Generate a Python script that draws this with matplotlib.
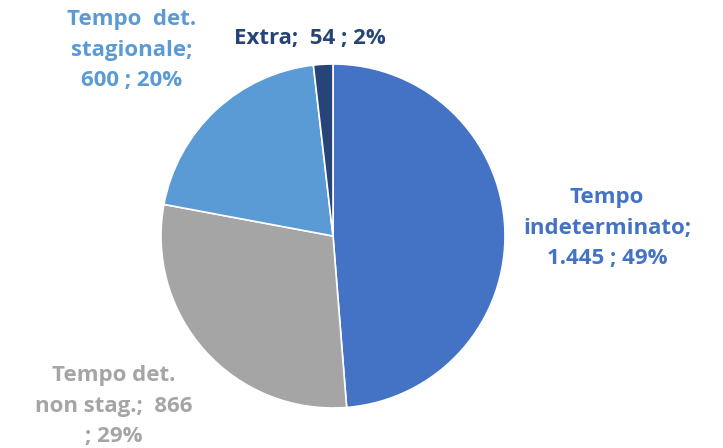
import matplotlib
matplotlib.use("Agg")
import matplotlib.pyplot as plt

# contract types and counts
categories = ["Tempo indeterminato", "Tempo det. non stag.", "Tempo det. stagionale", "Extra"]
values = [1445, 866, 600, 54]
labels = ["Tempo\nindeterminato;\n1.445 ; 49%",
          "Tempo det.\nnon stag.;  866\n; 29%",
          "Tempo  det.\nstagionale;\n600 ; 20%",
          "Extra;  54 ; 2%"]
colors = ["#4472C4", "#A5A5A5", "#5B9BD5", "#264478"]

plt.rcParams['font.family'] = ['Open Sans', 'DejaVu Sans']

W, H = 723, 448
cx, cy, r = 333, 236, 172

fig = plt.figure(figsize=(W / 100, H / 100), dpi=100)
ax = fig.add_axes([0, 0, 1, 1])
ax.pie(values, colors=colors, startangle=90, counterclock=False,
       wedgeprops=dict(edgecolor="white", linewidth=1.2))
ax.set_xlim(-cx / r, (W - cx) / r)
ax.set_ylim(-(H - cy) / r, cy / r)
ax.set_aspect("auto")
ax.axis("off")

# label positions in pixels (x, y from top)
pos = [(607, 228), (114, 406), (132, 50), (310, 38)]
for lab, col, (px, py) in zip(labels, colors, pos):
    ax.text((px - cx) / r, (cy - py) / r, lab, color=col, fontsize=16,
            fontweight="bold", ha="center", va="center", linespacing=1.62)

fig.savefig("out.png", dpi=100)
